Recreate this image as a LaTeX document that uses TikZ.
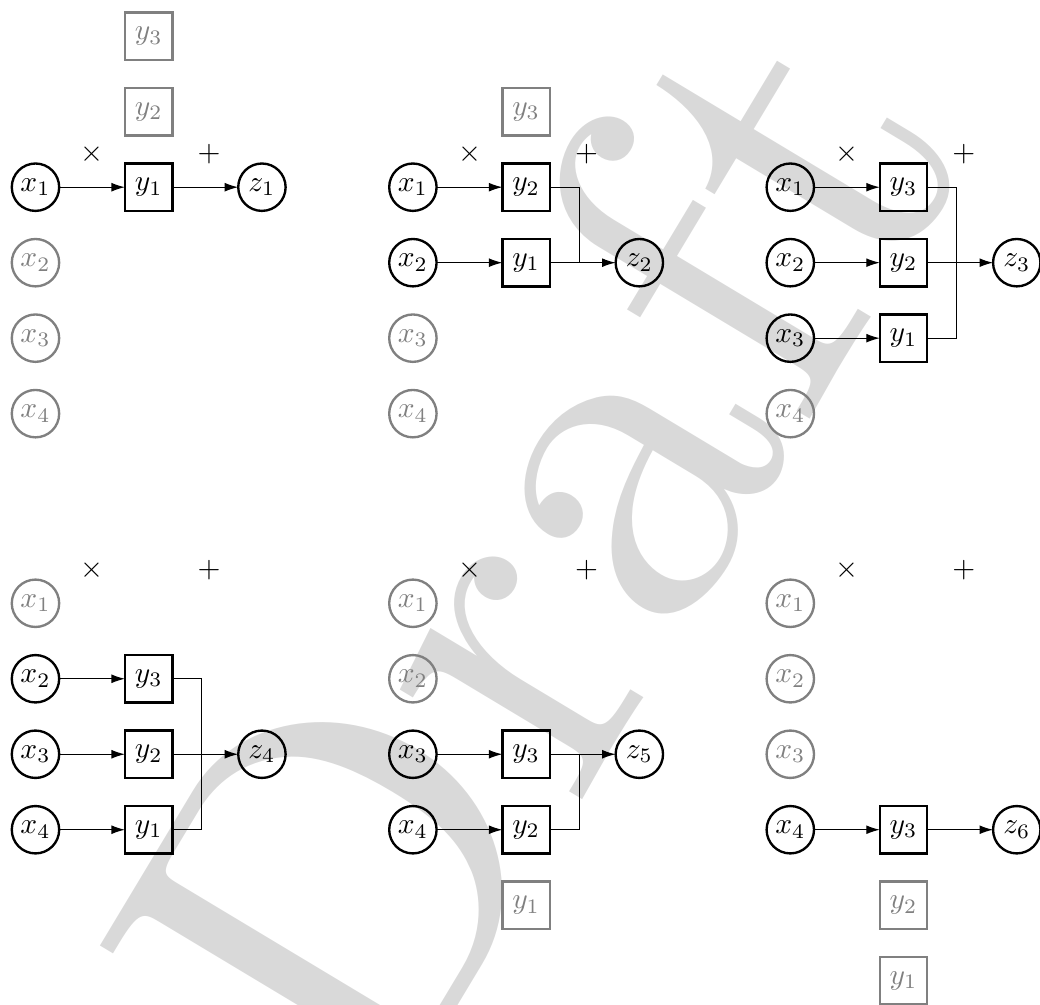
\documentclass[tikz,border=0pt]{standalone}
\usepackage{tikz}
\usetikzlibrary{positioning,arrows.meta,calc}
\font\draftfont="[lmroman10-regular.otf]" at 167.5pt

\begin{document}
\begin{tikzpicture}[
    node distance=3.35mm and 7.85mm,
    every node/.style={outer sep=0pt},
    sig/.style={circle,draw,thick,minimum size=5.65mm,inner sep=0pt},
    wgt/.style={rectangle,draw,thick,minimum size=5.65mm,inner sep=0pt},
    idle/.style={draw=black!50,text=black!50},
    conn/.style={-{Latex[length=4.6pt,width=3pt]}},
    wmark/.style={text=black!15,font=\draftfont,inner sep=0pt}
  ]
    \useasboundingbox (0,0) rectangle (12.40,-11.98);
    % watermark behind everything
    \begin{scope}
      \clip (0,0) rectangle (12.40,-11.98);
      \node[wmark,rotate=59,anchor=base west] (draft) at (4.54,-13.53) {Draft};
    \end{scope}

    % z_1
    \node[sig] (a-x1) at (0.423,-2.232) {$x_1$};
    \node[sig,idle,below=of a-x1] (a-x2) {$x_2$};
    \node[sig,idle,below=of a-x2] (a-x3) {$x_3$};
    \node[sig,idle,below=of a-x3] (a-x4) {$x_4$};
    \node[wgt,right=of a-x1] (a-y1) {$y_1$};
    \node[wgt,idle,above=of a-y1] (a-y2) {$y_2$};
    \node[wgt,idle,above=of a-y2] (a-y3) {$y_3$};
    \node[sig,right=of a-y1] (a-z1) {$z_1$};
    \node (a-mul) at ($(a-x1)+(6.75mm,3.9mm)$) {$\times$};
    \node (a-add) at ($(a-x1)+(20.7mm,3.9mm)$) {$+$};
    \draw[conn] (a-x1) -- (a-y1);
    \draw[conn] (a-y1) -- (a-z1);

    % z_2
    \node[sig] (b-x1) at (4.923,-2.232) {$x_1$};
    \node[sig,below=of b-x1] (b-x2) {$x_2$};
    \node[sig,idle,below=of b-x2] (b-x3) {$x_3$};
    \node[sig,idle,below=of b-x3] (b-x4) {$x_4$};
    \node[wgt,right=of b-x1] (b-y2) {$y_2$};
    \node[wgt,right=of b-x2] (b-y1) {$y_1$};
    \node[wgt,idle,above=of b-y2] (b-y3) {$y_3$};
    \node[sig,right=of b-y1] (b-z2) {$z_2$};
    \node (b-mul) at ($(b-x1)+(6.75mm,3.9mm)$) {$\times$};
    \node (b-add) at ($(b-x1)+(20.7mm,3.9mm)$) {$+$};
    \coordinate (b-j) at ($(b-y1.east)+(3.5mm,0)$);
    \draw[conn] (b-x1) -- (b-y2);
    \draw[conn] (b-x2) -- (b-y1);
    \draw (b-y2.east) -| (b-j);
    \draw[conn] (b-y1) -- (b-z2);

    % z_3
    \node[sig] (c-x1) at (9.423,-2.232) {$x_1$};
    \node[sig,below=of c-x1] (c-x2) {$x_2$};
    \node[sig,below=of c-x2] (c-x3) {$x_3$};
    \node[sig,idle,below=of c-x3] (c-x4) {$x_4$};
    \node[wgt,right=of c-x1] (c-y3) {$y_3$};
    \node[wgt,right=of c-x2] (c-y2) {$y_2$};
    \node[wgt,right=of c-x3] (c-y1) {$y_1$};
    \node[sig,right=of c-y2] (c-z3) {$z_3$};
    \node (c-mul) at ($(c-x1)+(6.75mm,3.9mm)$) {$\times$};
    \node (c-add) at ($(c-x1)+(20.7mm,3.9mm)$) {$+$};
    \coordinate (c-j) at ($(c-y2.east)+(3.5mm,0)$);
    \draw[conn] (c-x1) -- (c-y3);
    \draw[conn] (c-x2) -- (c-y2);
    \draw[conn] (c-x3) -- (c-y1);
    \draw (c-y3.east) -| (c-j) |- (c-y1.east);
    \draw[conn] (c-y2) -- (c-z3);

    % z_4
    \node[sig,idle] (d-x1) at (0.423,-7.193) {$x_1$};
    \node[sig,below=of d-x1] (d-x2) {$x_2$};
    \node[sig,below=of d-x2] (d-x3) {$x_3$};
    \node[sig,below=of d-x3] (d-x4) {$x_4$};
    \node[wgt,right=of d-x2] (d-y3) {$y_3$};
    \node[wgt,right=of d-x3] (d-y2) {$y_2$};
    \node[wgt,right=of d-x4] (d-y1) {$y_1$};
    \node[sig,right=of d-y2] (d-z4) {$z_4$};
    \node (d-mul) at ($(d-x1)+(6.75mm,3.9mm)$) {$\times$};
    \node (d-add) at ($(d-x1)+(20.7mm,3.9mm)$) {$+$};
    \coordinate (d-j) at ($(d-y2.east)+(3.5mm,0)$);
    \draw[conn] (d-x2) -- (d-y3);
    \draw[conn] (d-x3) -- (d-y2);
    \draw[conn] (d-x4) -- (d-y1);
    \draw (d-y3.east) -| (d-j) |- (d-y1.east);
    \draw[conn] (d-y2) -- (d-z4);

    % z_5
    \node[sig,idle] (e-x1) at (4.923,-7.193) {$x_1$};
    \node[sig,idle,below=of e-x1] (e-x2) {$x_2$};
    \node[sig,below=of e-x2] (e-x3) {$x_3$};
    \node[sig,below=of e-x3] (e-x4) {$x_4$};
    \node[wgt,right=of e-x3] (e-y3) {$y_3$};
    \node[wgt,right=of e-x4] (e-y2) {$y_2$};
    \node[wgt,idle,below=of e-y2] (e-y1) {$y_1$};
    \node[sig,right=of e-y3] (e-z5) {$z_5$};
    \node (e-mul) at ($(e-x1)+(6.75mm,3.9mm)$) {$\times$};
    \node (e-add) at ($(e-x1)+(20.7mm,3.9mm)$) {$+$};
    \coordinate (e-j) at ($(e-y3.east)+(3.5mm,0)$);
    \draw[conn] (e-x3) -- (e-y3);
    \draw[conn] (e-x4) -- (e-y2);
    \draw (e-y2.east) -| (e-j);
    \draw[conn] (e-y3) -- (e-z5);

    % z_6
    \node[sig,idle] (f-x1) at (9.423,-7.193) {$x_1$};
    \node[sig,idle,below=of f-x1] (f-x2) {$x_2$};
    \node[sig,idle,below=of f-x2] (f-x3) {$x_3$};
    \node[sig,below=of f-x3] (f-x4) {$x_4$};
    \node[wgt,right=of f-x4] (f-y3) {$y_3$};
    \node[wgt,idle,below=of f-y3] (f-y2) {$y_2$};
    \node[wgt,idle,below=of f-y2] (f-y1) {$y_1$};
    \node[sig,right=of f-y3] (f-z6) {$z_6$};
    \node (f-mul) at ($(f-x1)+(6.75mm,3.9mm)$) {$\times$};
    \node (f-add) at ($(f-x1)+(20.7mm,3.9mm)$) {$+$};
    \draw[conn] (f-x4) -- (f-y3);
    \draw[conn] (f-y3) -- (f-z6);
  \end{tikzpicture}
\end{document}
